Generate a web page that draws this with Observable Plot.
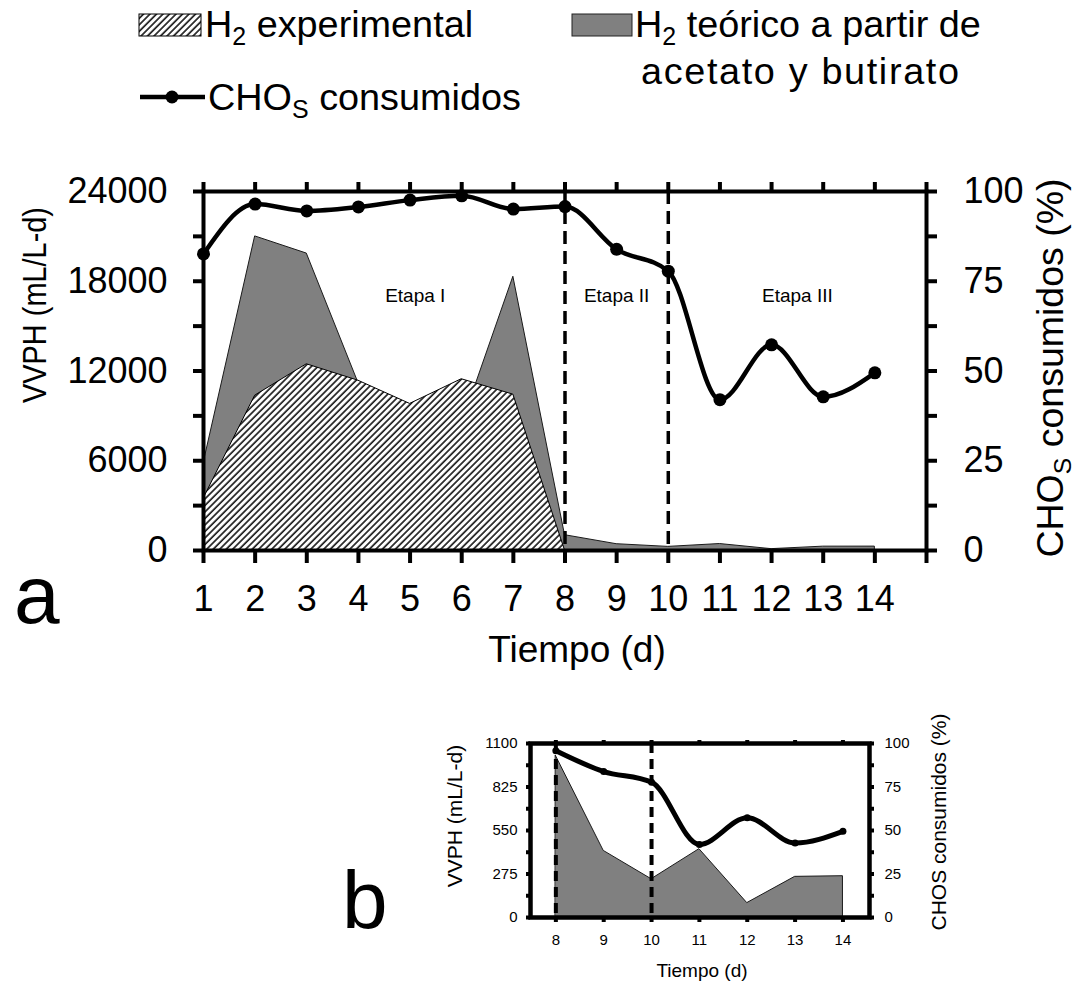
<!DOCTYPE html>
<html>
<head>
<meta charset="utf-8">
<script src="https://cdn.jsdelivr.net/npm/d3@7"></script>
<script src="https://cdn.jsdelivr.net/npm/@observablehq/plot@0.6"></script>
<style>
  body { margin: 0; background: #fff; }
  #wrap { position: relative; width: 1077px; height: 986px; overflow: hidden; background: #fff; }
  #wrap > svg { position: absolute; }
</style>
</head>
<body>
<div id="wrap"></div>
<script>
// ---- data -------------------------------------------------------------
const days = [1, 2, 3, 4, 5, 6, 7, 8, 9, 10, 11, 12, 13, 14];
// H2 volumetric production rate, mL/L-d
const h2Exp = [3450, 10350, 12450, 11350, 9800, 11450, 10420, 0, 0, 0, 0, 0, 0, 0];
const h2Teo = [5800, 21000, 19850, 11200, 8000, 8400, 18300, 1022, 421, 242, 432, 91, 257, 261];
// carbohydrates consumed, %
const choCons = [82.6, 96.5, 94.6, 95.7, 97.6, 98.8, 95.1, 95.8, 83.9, 77.8, 42.0, 57.3, 42.8, 49.5];

const stageBounds = [8, 10];
const stageNames = ["Etapa I", "Etapa II", "Etapa III"];
const stageLabelDay = [5.1, 9, 12.5];
const stageLabelLevel = 17000;

const vvphTicks = [0, 6000, 12000, 18000, 24000];
const vvphMinor = [3000, 9000, 15000, 21000];
const insetTicks = [0, 275, 550, 825, 1100];
const insetMinor = [137.5, 412.5, 687.5, 962.5];

// ---- helpers ----------------------------------------------------------
const FONT = '"Liberation Sans", Arial, Helvetica, sans-serif';
const rows = days.map((d, i) => ({day: d, exp: h2Exp[i], teo: h2Teo[i], cho: choCons[i]}));
const rowsB = rows.filter(r => r.day >= 8);
const K = 24000 / 100;   // % on the right axis -> left axis units
const K2 = 1100 / 100;
const HATCH_KEY = "#fefefe"; // placeholder fill swapped for the hatch pattern

function addHatch(svg, id) {
  const defs = d3.select(svg).insert("defs", ":first-child");
  const p = defs.append("pattern")
    .attr("id", id).attr("patternUnits", "userSpaceOnUse")
    .attr("width", 4.6).attr("height", 4.6)
    .attr("patternTransform", "rotate(45)");
  p.append("rect").attr("width", 4.6).attr("height", 4.6).attr("fill", "white");
  p.append("line").attr("x1", 1).attr("y1", 0).attr("x2", 1).attr("y2", 4.6)
    .attr("stroke", "#111").attr("stroke-width", 1.6);
}

const wrap = document.getElementById("wrap");

// ---- panel a ----------------------------------------------------------
const plotA = Plot.plot({
  width: 1077, height: 560,
  marginTop: 61, marginBottom: 140, marginLeft: 203, marginRight: 151,
  style: {fontFamily: FONT, color: "black", background: "transparent", overflow: "visible"},
  x: {domain: [1, 15], axis: null},
  y: {domain: [0, 24000], axis: null},
  marks: [
    Plot.areaY(rows, {x: "day", y: "teo", fill: "#808080", stroke: "#1a1a1a", strokeWidth: 1}),
    Plot.areaY(rows, {x: "day", y: "exp", fill: HATCH_KEY, stroke: "black", strokeWidth: 1}),
    Plot.ruleX(stageBounds, {strokeWidth: 3.5, strokeDasharray: "13,7"}),
    Plot.text(stageNames, {x: (d, i) => stageLabelDay[i], y: () => stageLabelLevel, text: d => d, fontSize: 19}),
    Plot.line(rows, {x: "day", y: d => d.cho * K, curve: "monotone-x", strokeWidth: 4.5}),
    Plot.dot(rows, {x: "day", y: d => d.cho * K, r: 6.5, fill: "black", stroke: "none"}),
    Plot.frame({strokeWidth: 4}),
    Plot.axisX({anchor: "bottom", ticks: d3.range(1, 16), tickFormat: d => d < 15 ? String(d) : "",
      tickSize: 13, tickPadding: 22, fontSize: 36, strokeWidth: 4, label: null}),
    Plot.axisX({anchor: "top", ticks: d3.range(1, 16), tickFormat: () => "",
      tickSize: 10, strokeWidth: 4, label: null}),
    Plot.axisY({anchor: "left", ticks: vvphTicks, tickFormat: d => String(d),
      tickSize: 10, tickPadding: 26, fontSize: 36, strokeWidth: 4, label: null}),
    Plot.axisY({anchor: "left", ticks: vvphMinor, tickFormat: () => "",
      tickSize: 10, strokeWidth: 4, label: null}),
    Plot.axisY({anchor: "right", ticks: d3.range(0, 24001, 3000), tickFormat: d => d % 6000 === 0 ? String(d / K) : "",
      tickSize: 10, tickPadding: 27, fontSize: 36, strokeWidth: 4, label: null})
  ]
});
addHatch(plotA, "hatchA");
d3.select(plotA).selectAll(`[fill="${HATCH_KEY}"]`).attr("fill", "url(#hatchA)");
plotA.style.left = "0px";
plotA.style.top = "130px";
wrap.appendChild(plotA);

// ---- panel b (stages II and III, zoomed) ------------------------------
const plotB = Plot.plot({
  width: 677, height: 286,
  marginTop: 43, marginBottom: 69, marginLeft: 130, marginRight: 208,
  style: {fontFamily: FONT, color: "black", background: "transparent", overflow: "visible"},
  x: {domain: [7.47, 14.555], axis: null},
  y: {domain: [0, 1100], axis: null},
  marks: [
    Plot.areaY(rowsB, {x: "day", y: "teo", fill: "#808080", stroke: "#1a1a1a", strokeWidth: 1}),
    Plot.ruleX(stageBounds, {strokeWidth: 4, strokeDasharray: "10,6"}),
    Plot.line(rowsB, {x: "day", y: d => d.cho * K2, curve: "monotone-x", strokeWidth: 5}),
    Plot.dot(rowsB, {x: "day", y: d => d.cho * K2, r: 3.5, fill: "black", stroke: "none"}),
    Plot.frame({strokeWidth: 4.5}),
    Plot.axisX({anchor: "bottom", ticks: d3.range(8, 15), tickFormat: d => String(d),
      tickSize: 5, tickPadding: 12, fontSize: 15, strokeWidth: 4, label: null}),
    Plot.axisX({anchor: "top", ticks: d3.range(8, 15), tickFormat: () => "",
      tickSize: 4, strokeWidth: 4, label: null}),
    Plot.axisY({anchor: "left", ticks: insetTicks, tickFormat: d => String(d),
      tickSize: 4, tickPadding: 9, fontSize: 15, strokeWidth: 4, label: null}),
    Plot.axisY({anchor: "left", ticks: insetMinor, tickFormat: () => "",
      tickSize: 4, strokeWidth: 4, label: null}),
    Plot.axisY({anchor: "right", ticks: insetTicks, tickFormat: d => String(Math.round(d / K2)),
      tickSize: 4, tickPadding: 11, fontSize: 15, strokeWidth: 4, label: null}),
    Plot.axisY({anchor: "right", ticks: insetMinor, tickFormat: () => "",
      tickSize: 4, strokeWidth: 4, label: null})
  ]
});
plotB.style.left = "400px";
plotB.style.top = "700px";
wrap.appendChild(plotB);

// ---- titles, panel letters and legend ---------------------------------
const over = d3.select(wrap).append("svg")
  .attr("width", 1077).attr("height", 986)
  .style("left", "0px").style("top", "0px")
  .style("pointer-events", "none")
  .attr("font-family", FONT).attr("fill", "black");
addHatch(over.node(), "hatchL");

// text with optional subscript runs: parts = [[string, isSub], ...]
function label(x, y, parts, size, opts = {}) {
  const t = over.append("text")
    .attr("transform", `translate(${x},${y})` + (opts.rotate ? ` rotate(${opts.rotate})` : ""))
    .attr("font-size", size)
    .attr("text-anchor", opts.anchor || "start");
  if (opts.textLength) t.attr("textLength", opts.textLength).attr("lengthAdjust", opts.adjust || "spacingAndGlyphs");
  const sub = size * 0.66, shift = size * 0.22;
  let down = false;
  for (const [s, isSub] of parts) {
    const ts = t.append("tspan").text(s);
    if (isSub) { ts.attr("font-size", sub).attr("dy", down ? 0 : shift); down = true; }
    else { ts.attr("dy", down ? -shift : 0); down = false; }
  }
  return t;
}

// panel a axis titles
label(46, 305, [["VVPH (mL/L-d)"]], 33, {rotate: -90, anchor: "middle", textLength: 196});
label(1063, 368, [["CHO"], ["S", true], [" consumidos (%)"]], 37.5, {rotate: -90, anchor: "middle"});
label(577, 662, [["Tiempo (d)"]], 37, {anchor: "middle"});

// panel b axis titles
label(462, 816, [["VVPH (mL/L-d)"]], 21, {rotate: -90, anchor: "middle"});
label(946, 822, [["CHOS consumidos (%)"]], 21, {rotate: -90, anchor: "middle"});
label(702, 977, [["Tiempo (d)"]], 19, {anchor: "middle"});

// panel letters
label(14, 623, [["a"]], 82);
label(342, 928, [["b"]], 82);

// legend
const LF = 37.8;
over.append("rect").attr("x", 139).attr("y", 14).attr("width", 62).attr("height", 22)
  .attr("fill", "url(#hatchL)").attr("stroke", "black").attr("stroke-width", 1);
label(205, 37, [["H"], ["2", true], [" experimental"]], LF);

over.append("rect").attr("x", 572).attr("y", 14).attr("width", 60).attr("height", 22)
  .attr("fill", "#808080").attr("stroke", "#222").attr("stroke-width", 1);
label(635, 37, [["H"], ["2", true], [" teórico a partir de"]], LF);
label(641, 84, [["acetato y butirato"]], LF, {textLength: 318, adjust: "spacing"});

over.append("line").attr("x1", 140).attr("x2", 205).attr("y1", 97).attr("y2", 97)
  .attr("stroke", "black").attr("stroke-width", 4.5);
over.append("circle").attr("cx", 172).attr("cy", 97).attr("r", 6.5).attr("fill", "black");
label(208, 110, [["CHO"], ["S", true], [" consumidos"]], LF);
</script>
</body>
</html>
